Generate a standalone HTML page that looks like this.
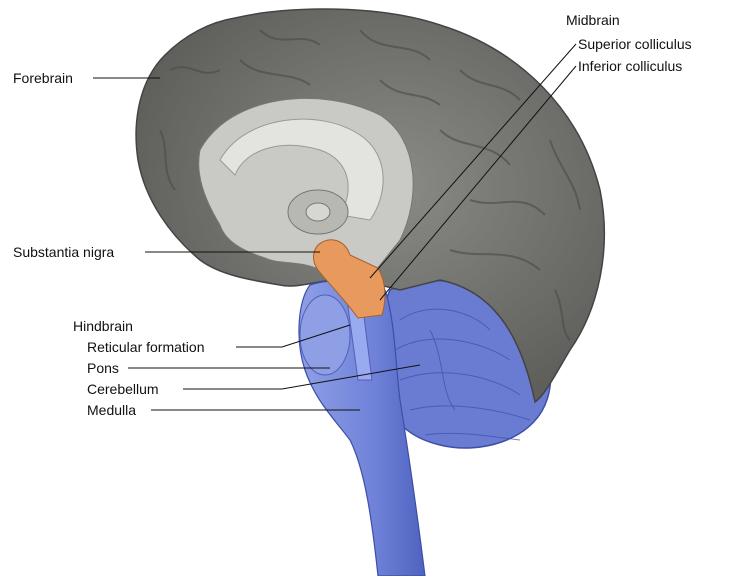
<!DOCTYPE html>
<html><head><meta charset="utf-8"><style>
html,body{margin:0;padding:0;background:#fff;}
svg{display:block;}
text{font-family:"Liberation Sans",sans-serif;font-size:14px;fill:#111;}
</style></head><body>
<svg width="750" height="576" viewBox="0 0 750 576" xmlns="http://www.w3.org/2000/svg">
<defs>
<radialGradient id="g1" cx="0.55" cy="0.45" r="0.6">
<stop offset="0" stop-color="#8a8a86"/><stop offset="1" stop-color="#5e5e5a"/></radialGradient>
<linearGradient id="b1" x1="0" y1="0" x2="1" y2="0">
<stop offset="0" stop-color="#8f9fe6"/><stop offset="0.6" stop-color="#6f82d8"/><stop offset="1" stop-color="#4f62c0"/></linearGradient>
</defs>
<!-- cerebellum -->
<path d="M390 290 C420 275 470 278 510 300 C545 320 560 370 545 405 C530 440 480 455 440 445 C410 438 390 420 385 395 C380 360 380 310 390 290Z" fill="#6a7bd2" stroke="#3d4ea8" stroke-width="1.5"/>
<g stroke="#3d4ea8" stroke-width="1" fill="none" opacity="0.7">
<path d="M400 320 C430 300 470 310 490 330"/>
<path d="M395 350 C430 330 480 340 510 360"/>
<path d="M400 380 C440 365 490 375 520 395"/>
<path d="M410 410 C450 400 500 410 530 420"/>
<path d="M425 435 C460 430 500 438 520 440"/>
<path d="M430 330 C445 360 440 390 455 410"/>
</g>
<!-- cerebrum -->
<path d="M235 18 C290 5 380 5 440 25 C520 50 580 110 600 190 C612 250 598 310 570 350 C555 375 545 395 535 402 C520 330 490 290 440 280 L400 290 L360 280 C330 275 300 290 280 285 C250 280 220 275 200 260 C170 235 145 200 138 160 C132 120 140 80 165 55 C185 35 210 22 235 18Z" fill="url(#g1)" stroke="#444" stroke-width="1.5"/>
<g stroke="#4a4a46" stroke-width="2" fill="none" opacity="0.6">
<path d="M170 70 C190 60 200 80 220 70"/>
<path d="M260 30 C280 50 300 30 320 45"/>
<path d="M360 30 C380 55 410 40 430 60"/>
<path d="M460 70 C480 90 500 80 520 100"/>
<path d="M440 130 C460 150 490 140 510 165"/>
<path d="M470 200 C500 210 520 190 545 215"/>
<path d="M450 250 C480 260 510 245 540 270"/>
<path d="M550 140 C560 170 575 180 580 210"/>
<path d="M160 130 C170 150 160 170 175 190"/>
<path d="M240 60 C260 80 290 70 310 85"/>
<path d="M380 80 C400 100 420 90 440 105"/>
<path d="M555 290 C565 310 560 330 570 340"/>
</g>
<!-- medial light region -->
<path d="M200 150 C230 95 320 85 380 115 C420 140 420 200 400 240 L360 290 L320 270 C300 260 280 265 265 258 C240 250 225 240 220 225 C205 200 195 175 200 150Z" fill="#c9c9c5" stroke="#777" stroke-width="1"/>
<path d="M220 160 C245 115 320 108 360 135 C390 155 388 195 370 220 L340 215 C355 190 350 160 320 150 C280 138 245 150 235 175Z" fill="#e3e3df" stroke="#999" stroke-width="1"/>
<ellipse cx="318" cy="212" rx="30" ry="22" fill="#b8b8b3" stroke="#777"/>
<ellipse cx="318" cy="212" rx="12" ry="9" fill="#d6d6d2" stroke="#777"/>
<!-- brainstem -->
<path d="M310 285 C330 278 360 280 385 290 C395 320 395 360 400 400 C408 450 418 520 425 576 L378 576 C372 520 365 470 350 440 C335 420 315 400 305 370 C295 340 298 300 310 285Z" fill="url(#b1)" stroke="#3d4ea8" stroke-width="1.2"/>
<ellipse cx="325" cy="335" rx="25" ry="40" fill="#8e9fe6" stroke="#5060b8"/>
<path d="M345 285 L360 285 L372 380 L358 380Z" fill="#9aaaf0" stroke="#5060b8"/>
<!-- midbrain orange -->
<path d="M318 245 C330 235 345 240 350 255 L378 268 C388 285 385 305 382 315 L358 318 C345 300 330 285 318 270 C312 262 312 252 318 245Z" fill="#e89a5e" stroke="#a8602a"/>
<!-- lines -->
<g stroke="#111" stroke-width="1" fill="none">
<line x1="93" y1="78" x2="160" y2="78"/>
<line x1="576" y1="44" x2="370" y2="278"/>
<line x1="576" y1="66" x2="380" y2="300"/>
<line x1="145" y1="252" x2="320" y2="252"/>
<line x1="236" y1="347" x2="282" y2="347"/><line x1="282" y1="347" x2="350" y2="325"/>
<line x1="128" y1="368" x2="330" y2="368"/>
<line x1="183" y1="389" x2="282" y2="389"/><line x1="282" y1="389" x2="420" y2="365"/>
<line x1="151" y1="410" x2="360" y2="410"/>
</g>
<text x="13" y="83">Forebrain</text>
<text x="566" y="25">Midbrain</text>
<text x="578" y="49">Superior colliculus</text>
<text x="578" y="71">Inferior colliculus</text>
<text x="13" y="257">Substantia nigra</text>
<text x="73" y="331">Hindbrain</text>
<text x="87" y="352">Reticular formation</text>
<text x="87" y="373">Pons</text>
<text x="87" y="394">Cerebellum</text>
<text x="87" y="415">Medulla</text>
</svg>
</body></html>
